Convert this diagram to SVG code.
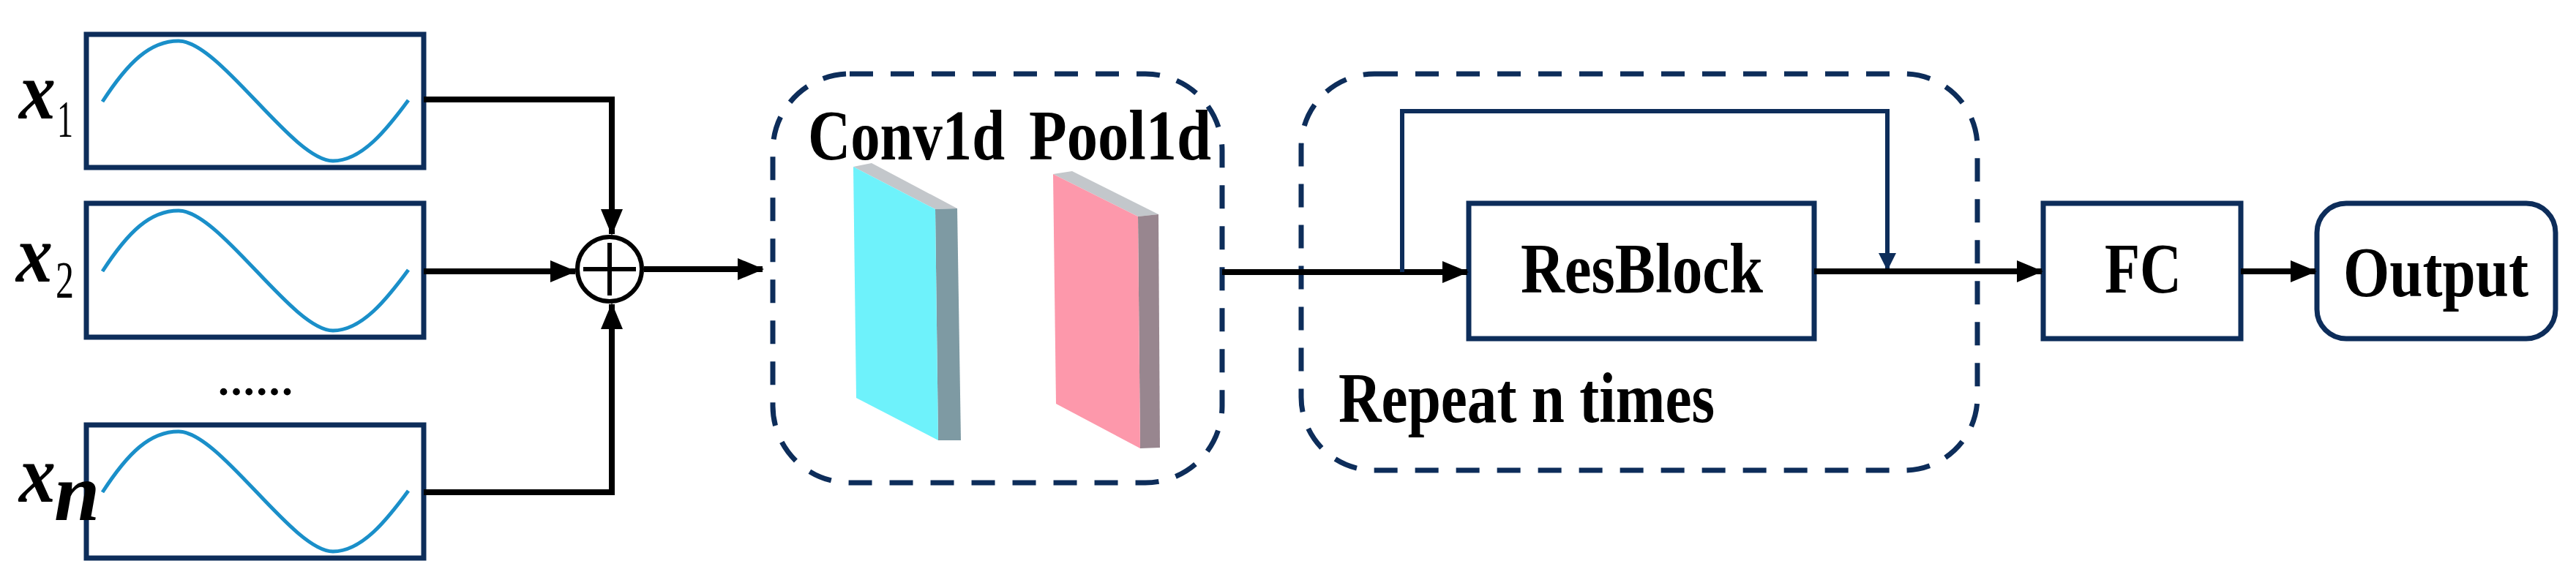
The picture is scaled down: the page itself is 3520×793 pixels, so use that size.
<svg xmlns="http://www.w3.org/2000/svg" width="3520" height="793" viewBox="0 0 3520 793">
<style>
.box{fill:#fff;stroke:#0d2d5a;stroke-width:7}
.dash{fill:none;stroke:#0d2d5a;stroke-width:7;stroke-dasharray:32 24}
.sine{fill:none;stroke:#1a8fc9;stroke-width:5}
.ln{fill:none;stroke:#000;stroke-width:8}
.sk{fill:none;stroke:#0d2d5a;stroke-width:6}
.t{font-family:"Liberation Serif",serif;font-weight:bold;font-size:98px;fill:#000}
.xv{font-family:"Liberation Serif",serif;font-weight:bold;font-style:italic;font-size:112px}
.sub{font-family:"Liberation Serif",serif;font-size:72px}
</style>
<defs>
<marker id="ah" markerUnits="userSpaceOnUse" markerWidth="36" markerHeight="30" refX="34" refY="15" orient="auto"><path d="M0,0 L36,15 L0,30 Z" fill="#000"/></marker>
<marker id="ah2" markerUnits="userSpaceOnUse" markerWidth="24" markerHeight="36" refX="22" refY="12" orient="auto"><path d="M0,0 L24,12 L0,24 Z" fill="#0d2d5a"/></marker>
</defs>
<g id="in1"><rect class="box" x="118" y="47" width="461" height="182"/><path class="sine" d="M140,139 C175,85 205,56 244,56 C300,56 400,220 455,220 C495,220 530,175 558,137"/>
<text class="xv" x="26" y="162" textLength="50" lengthAdjust="spacingAndGlyphs">x</text><text class="sub" x="78" y="187" textLength="22" lengthAdjust="spacingAndGlyphs">1</text></g>
<g id="in2"><rect class="box" x="118" y="278" width="461" height="183"/><path class="sine" d="M140,371 C175,317 205,288 244,288 C300,288 400,452 455,452 C495,452 530,407 558,369"/>
<text class="xv" x="22" y="385" textLength="50" lengthAdjust="spacingAndGlyphs">x</text><text class="sub" x="76" y="407" textLength="25" lengthAdjust="spacingAndGlyphs">2</text></g>
<text x="298" y="540" font-family="Liberation Serif,serif" font-size="60" font-weight="bold" textLength="102">......</text>
<g id="inn"><rect class="box" x="118" y="581" width="461" height="182"/><path class="sine" d="M140,673 C175,619 205,590 244,590 C300,590 400,754 455,754 C495,754 530,709 558,671"/>
<text class="xv" x="26" y="686" textLength="50" lengthAdjust="spacingAndGlyphs">x</text><text class="xv" x="74" y="711" font-size="64">n</text></g>
<g id="sum"><circle cx="833" cy="368" r="44" fill="#fff" stroke="#000" stroke-width="6"/><path d="M797,368 H869 M833,332 V404" stroke="#000" stroke-width="6"/></g>
<g id="conv"><rect class="dash" x="1056" y="101" width="614" height="559" rx="105"/>
<text class="t" x="1104" y="218" textLength="269" lengthAdjust="spacingAndGlyphs">Conv1d</text><text class="t" x="1406" y="218" textLength="249" lengthAdjust="spacingAndGlyphs">Pool1d</text>
<polygon points="1166,228 1191,223 1308,285 1278,286" fill="#c3c7cb"/>
<polygon points="1278,286 1308,285 1313,602 1282,602" fill="#7e9aa3"/>
<polygon points="1166,228 1278,286 1282,602 1170,544" fill="#6ef2fb"/>
<polygon points="1439,238 1465,234 1583,293 1555,296" fill="#c3c7cb"/>
<polygon points="1555,296 1583,293 1585,612 1558,613" fill="#98868f"/>
<polygon points="1439,238 1555,296 1558,613 1443,552" fill="#fd98ab"/></g>
<g id="repeat"><rect class="dash" x="1778" y="101" width="924" height="542" rx="100"/>
<text class="t" x="1829" y="577" textLength="514" lengthAdjust="spacingAndGlyphs">Repeat n times</text></g>
<g id="res"><rect class="box" x="2007" y="278" width="472" height="185"/><text class="t" x="2078" y="400" textLength="331" lengthAdjust="spacingAndGlyphs">ResBlock</text></g>
<g id="fc"><rect class="box" x="2792" y="278" width="270" height="185"/><text class="t" x="2876" y="400" textLength="105" lengthAdjust="spacingAndGlyphs">FC</text></g>
<g id="out"><rect class="box" x="3166" y="278" width="326" height="185" rx="40"/><text class="t" x="3202" y="405" textLength="253" lengthAdjust="spacingAndGlyphs">Output</text></g>
<g id="connectors">
<path class="ln" d="M579,136 H836 V320" marker-end="url(#ah)"/>
<path class="ln" d="M579,371 H786" marker-end="url(#ah)"/>
<path class="ln" d="M579,673 H836 V416" marker-end="url(#ah)"/>
<path class="ln" d="M880,368 H1042" marker-end="url(#ah)"/>
<path class="ln" d="M1670,372 H2005" marker-end="url(#ah)"/>
<path class="sk" d="M1916,372 V152 H2579 V368" marker-end="url(#ah2)"/>
<path class="ln" d="M2479,371 H2790" marker-end="url(#ah)"/>
<path class="ln" d="M3062,371 H3164" marker-end="url(#ah)"/>
</g>
</svg>
